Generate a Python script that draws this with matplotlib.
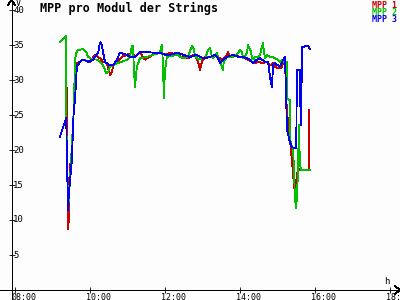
import matplotlib
matplotlib.use("Agg")
import matplotlib.pyplot as plt
from matplotlib.transforms import blended_transform_factory

# ---------------- data ----------------
t_mpp1 = ["9:12","9:22","9:22","9:23","9:25","9:26","9:28","9:31","9:34","9:38","9:39","9:44","9:49","10:00","10:08","10:16","10:21","10:27","10:29","10:32","10:35","10:37","10:43","10:51","10:59","11:07","11:12","11:15","11:20","11:28","11:31","11:41","11:52","12:00","12:08","12:19","12:27","12:37","12:40","12:45","12:48","12:53","12:56","12:59","13:04","13:12","13:20","13:25","13:31","13:39","13:41","13:44","13:52","14:00","14:08","14:13","14:19","14:24","14:29","14:37","14:43","14:48","14:53","14:56","15:01","15:06","15:09","15:12","15:14","15:17","15:20","15:23","15:25","15:28","15:30","15:33","15:36","15:50","15:51"]
v_mpp1 = [35.4,36.3,32.6,25.7,8.7,10.0,17.9,18.6,25.7,32.1,32.4,32.6,32.9,32.6,33.6,33.1,32.6,32.4,31.7,30.7,31.1,32.1,32.6,33.3,33.6,33.9,33.3,33.6,33.9,32.9,33.1,33.6,33.9,33.6,33.9,33.6,33.3,33.1,33.3,33.6,33.6,32.6,31.4,32.6,33.3,33.3,33.6,33.3,32.9,33.6,34.0,33.3,33.6,33.3,33.1,32.9,32.6,32.4,32.6,32.4,32.6,32.1,32.4,31.9,31.7,31.7,32.4,32.9,27.1,23.6,21.4,18.6,16.4,13.6,15.7,17.4,17.1,17.1,25.7]

t_mpp2 = ["9:12","9:22","9:22","9:23","9:25","9:26","9:28","9:31","9:34","9:36","9:38","9:41","9:49","9:54","9:57","10:03","10:11","10:16","10:21","10:26","10:29","10:32","10:37","10:43","10:51","10:59","11:04","11:07","11:09","11:10","11:12","11:15","11:20","11:31","11:41","11:52","11:55","11:57","11:58","12:00","12:03","12:19","12:29","12:37","12:43","12:45","12:48","12:53","12:59","13:04","13:09","13:12","13:15","13:17","13:23","13:25","13:28","13:31","13:33","13:34","13:39","13:49","13:55","13:57","14:00","14:03","14:05","14:08","14:11","14:13","14:18","14:19","14:21","14:24","14:29","14:32","14:35","14:37","14:38","14:40","14:43","14:48","14:53","14:56","15:01","15:04","15:09","15:12","15:15","15:15","15:20","15:20","15:25","15:26","15:28","15:30","15:33","15:34","15:36","15:38","15:52"]
v_mpp2 = [35.4,36.3,25.7,18.6,12.1,12.9,15.7,20.7,25.7,32.9,33.9,34.3,34.4,34.0,33.3,33.0,32.9,32.6,32.1,31.0,31.1,31.9,32.1,32.4,32.6,32.9,33.3,34.9,34.9,31.9,29.0,31.9,33.1,33.3,33.6,33.9,35.0,31.9,27.4,31.4,33.3,33.6,33.1,33.3,34.9,34.7,33.6,32.9,33.1,33.1,34.3,34.6,33.3,33.1,33.9,33.1,32.6,31.9,31.4,32.6,33.3,33.3,33.6,33.9,34.3,34.0,33.1,33.3,33.9,35.0,33.9,33.1,32.9,33.3,33.3,33.6,34.7,35.3,34.3,33.1,33.6,33.3,33.3,33.1,32.9,32.6,32.9,32.4,32.6,27.4,27.1,21.4,20.0,17.9,12.9,11.7,17.1,23.6,17.9,17.1,17.1]

t_mpp3 = ["9:12","9:22","9:23","9:25","9:26","9:31","9:34","9:36","9:39","9:44","9:49","9:57","10:05","10:13","10:16","10:19","10:21","10:24","10:27","10:32","10:37","10:43","10:48","10:59","11:04","11:12","11:20","11:31","11:41","11:52","12:00","12:08","12:19","12:29","12:40","12:51","12:56","13:04","13:12","13:20","13:25","13:28","13:33","13:39","13:49","13:57","14:05","14:11","14:16","14:21","14:27","14:32","14:40","14:45","14:48","14:51","14:53","14:56","15:04","15:09","15:12","15:14","15:15","15:20","15:23","15:28","15:30","15:31","15:36","15:37","15:38","15:39","15:49","15:52"]
v_mpp3 = [21.9,24.6,18.6,11.4,13.6,18.6,25.7,27.1,31.9,32.6,32.9,32.6,32.9,33.9,35.4,35.0,33.9,32.6,32.4,32.1,32.1,32.9,33.9,33.6,33.3,33.3,34.0,34.0,33.9,33.9,33.6,33.6,33.9,33.6,33.3,33.6,33.3,33.1,33.3,33.6,33.1,32.4,32.9,33.3,33.6,33.3,33.3,33.1,32.9,32.4,32.9,33.1,32.6,32.6,30.4,29.0,32.1,32.4,31.9,32.9,33.3,27.1,22.9,21.1,20.4,20.3,20.3,31.4,31.4,23.6,23.6,34.7,34.9,34.4]

series_names = ["MPP 1", "MPP 2", "MPP 3"]
series_colors = ["#c80000", "#00c000", "#0000f0"]

y_ticks = [5, 10, 15, 20, 25, 30, 35, 40]
x_ticks = [8, 10, 12, 14, 16, 18]
x_tick_labels = ["08:00", "10:00", "12:00", "14:00", "16:00", "18:00"]
title = "MPP pro Modul der Strings"


def to_hours(s):
    h, m = s.split(":")
    return int(h) + int(m) / 60.0


W, H = 400, 300
fig = plt.figure(figsize=(W / 100, H / 100), dpi=100, facecolor="#fdfdfd")
ax = fig.add_axes([0, 0, 1, 1])
ax.set_facecolor("#fdfdfd")
ax.set_xlim(7.6, 7.6 + 400 / 37.5)
ax.set_ylim(-10 / 7, 290 / 7)

mono = "DejaVu Sans Mono"
LW = 0.6

for t, v, c in zip([t_mpp1, t_mpp2, t_mpp3], [v_mpp1, v_mpp2, v_mpp3], series_colors):
    ax.plot([to_hours(s) for s in t], v, color=c, lw=LW, antialiased=False,
            solid_joinstyle="miter", zorder=3)

# axes: spines as the arrowed axes
for s in ["top", "right"]:
    ax.spines[s].set_visible(False)
ax.spines["left"].set_position(("axes", 11.5 / W))
ax.spines["bottom"].set_position(("data", 0))
for s in ["left", "bottom"]:
    ax.spines[s].set_linewidth(LW)
    ax.spines[s].set_antialiased(False)

ax.set_yticks(y_ticks)
ax.set_xticks(x_ticks)
ax.tick_params(axis="both", direction="inout", length=5, width=LW, color="black",
               labelleft=False, labelbottom=False)

# arrow heads
ta = ax.transAxes
ax.plot([8 / W, 11.5 / W, 15 / W], [1 - 5 / H, 1.0, 1 - 5 / H], color="black", lw=LW,
        transform=ta, clip_on=False, antialiased=False)
ax.plot([(W - 5) / W, 1.0, (W - 5) / W], [(10 + 4) / H, 10 / H, (10 - 4) / H], color="black",
        lw=LW, transform=ta, clip_on=False, antialiased=False)

# unit labels
ax.text(16 / W, 1 + 1 / H, "V", transform=ta, fontsize=6, family=mono, va="top", ha="left")
ax.text(384 / W, (H - 277) / H, "h", transform=ta, fontsize=6.5, family=mono, va="top", ha="left")

# y tick labels (right of axis)
by = blended_transform_factory(ta, ax.transData)
for v in y_ticks:
    ax.text(13 / W, v, str(v), transform=by, fontsize=6.5, family=mono, va="center", ha="left")

# x tick labels
bx = blended_transform_factory(ax.transData, ta)
for xv, lab in zip(x_ticks, x_tick_labels):
    ax.text(xv - 4 / 37.5, (H - 293) / H, lab, transform=bx, fontsize=6, family=mono,
            va="top", ha="left")

# title
ax.text(40 / W, 1 - 2 / H, title, transform=ta, fontsize=8.5, family=mono,
        fontweight="bold", va="top", ha="left")

# legend
for i, (name, c) in enumerate(zip(series_names, series_colors)):
    ax.text((W - 3) / W, 1 - (1 + 7 * i) / H, name, transform=ta, fontsize=6, family=mono,
            fontweight="bold", color=c, va="top", ha="right")

fig.savefig("out.png", dpi=100, facecolor=fig.get_facecolor())
